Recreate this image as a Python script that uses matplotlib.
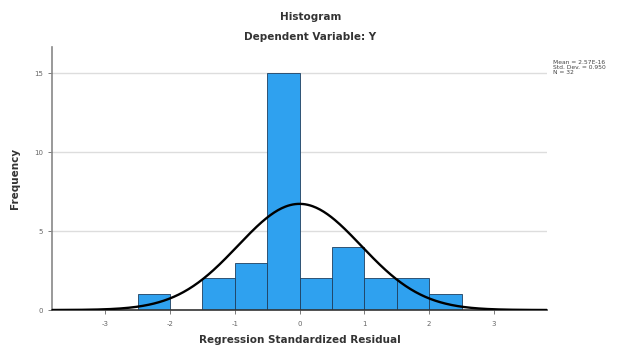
import numpy as np
import matplotlib.pyplot as plt

# histogram of regression standardized residuals
bin_left = [-2.5, -2.0, -1.5, -1.0, -0.5, 0.0, 0.5, 1.0, 1.5, 2.0]
counts = [1, 0, 2, 3, 15, 2, 4, 2, 2, 1]
bin_width = 0.5
mean_val = 2.57e-16
std_val = 0.950
n_obs = 32
xticks = [-3, -2, -1, 0, 1, 2, 3]
yticks = [0, 5, 10, 15]

plt.rcParams['axes.unicode_minus'] = False

fig = plt.figure(figsize=(6.21, 3.47), dpi=100)
ax = fig.add_axes([0.0837, 0.1066, 0.7973, 0.758])

ax.bar(bin_left, counts, width=bin_width, align='edge', color='#2fa1ef',
       edgecolor='#1f3f5f', linewidth=0.6, zorder=2)

# normal curve
xs = np.linspace(-3.82, 3.82, 400)
ys = n_obs * bin_width * np.exp(-0.5 * ((xs - mean_val) / std_val) ** 2) / (std_val * np.sqrt(2 * np.pi))
ax.plot(xs, ys, color='black', linewidth=1.7, zorder=3)

ax.set_xlim(-3.82, 3.82)
ax.set_ylim(0, 16.65)
ax.set_xticks(xticks)
ax.set_yticks(yticks)
ax.tick_params(labelsize=5, colors='#666666', length=3, width=0.6)
ax.tick_params(axis='x', pad=5)
ax.yaxis.grid(True, color='#dddddd', linewidth=1.0, zorder=0)
ax.set_axisbelow(True)

for s in ['top', 'right']:
    ax.spines[s].set_visible(False)
ax.spines['left'].set_color('#888888')
ax.spines['left'].set_linewidth(1.2)
ax.spines['bottom'].set_color('#333333')
ax.spines['bottom'].set_linewidth(1.2)

ax.set_xlabel('Regression Standardized Residual', fontsize=7.5, fontweight='bold',
              color='#333333', labelpad=6)
ax.set_ylabel('Frequency', fontsize=7.5, fontweight='bold', color='#333333', labelpad=10)

fig.text(0.5, 0.95, 'Histogram', ha='center', va='center', fontsize=7.5,
         fontweight='bold', color='#333333')
fig.text(0.5, 0.893, 'Dependent Variable: Y', ha='center', va='center', fontsize=7.5,
         fontweight='bold', color='#333333')

fig.text(0.891, 0.805, 'Mean = %.2E\nStd. Dev. = %.3f\nN = %d' % (mean_val, std_val, n_obs),
         ha='left', va='center', fontsize=4.3, color='#444444', linespacing=0.95)

plt.savefig('out.png', dpi=100)
